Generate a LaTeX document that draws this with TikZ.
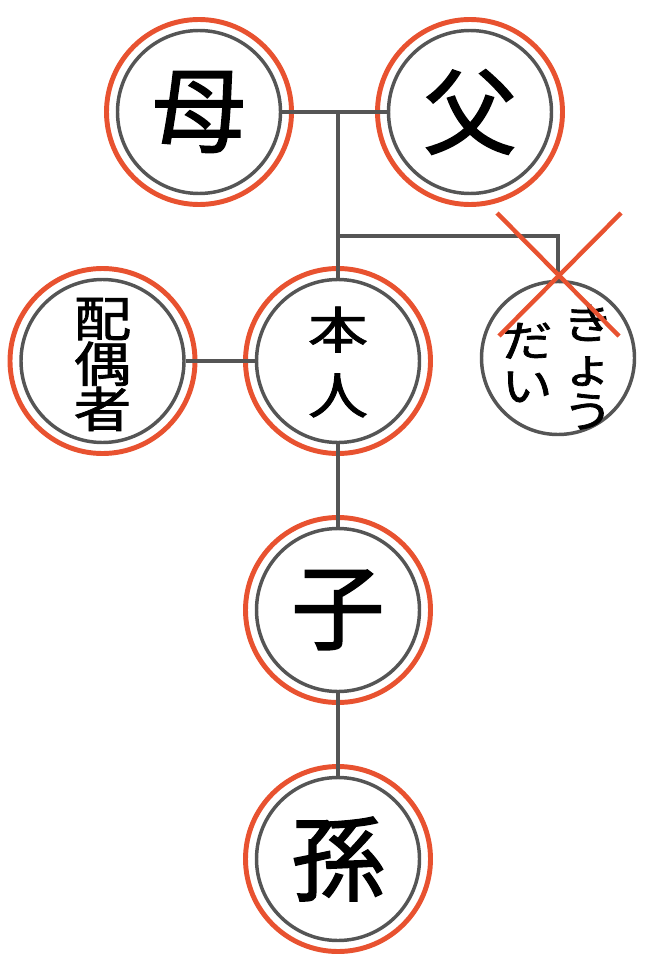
\documentclass[tikz,border=0pt]{standalone}
\usepackage{fontspec}
\newfontfamily\jp[FakeBold=1.6,AutoFakeBold=1.6]{Noto Sans CJK JP}
\definecolor{ringred}{RGB}{232,82,48}
\definecolor{linegray}{RGB}{85,85,85}
\newcommand{\vstack}[3]{\scalebox{1}[#1]{\vbox{\lineskiplimit=-200pt\baselineskip=#2\relax #3}}}
\begin{document}
\begin{tikzpicture}[x=0.75pt,y=-0.75pt,
  redring/.style={circle,draw=ringred,line width=3.7pt,minimum size=138.75pt,inner sep=0pt},
  grayring/.style={circle,draw=linegray,line width=2.6pt,minimum size=122.25pt,inner sep=0pt,
     font=\jp\bfseries\fontsize{70pt}{70pt}\selectfont},
  plainring/.style={circle,draw=linegray,line width=2.6pt,minimum size=114.75pt,inner sep=0pt},
  lbl/.style={inner sep=0pt},
  conn/.style={draw=linegray,line width=2.5pt},
  cross/.style={draw=ringred,line width=3.3pt},
]
\useasboundingbox (0,0) rectangle (650,963);

% rings
\node[redring] (moR) at (199,112) {};
\node[grayring] (mo) at (199,112) {母};
\node[redring] (faR) at (470,112) {};
\node[grayring] (fa) at (470,112) {父};
\node[redring] (spR) at (102.5,361) {};
\node[grayring] (sp) at (102.5,361) {};
\node[lbl,font=\jp\bfseries\fontsize{43pt}{43pt}\selectfont] (spT) at (102.5,364.5)
  {\vstack{0.84}{40.5pt}{\hbox{配}\hbox{偶}\hbox{者}}};
\node[redring] (hoR) at (338,361) {};
\node[grayring] (ho) at (338,361) {};
\node[lbl,font=\jp\bfseries\fontsize{45pt}{45pt}\selectfont] (hoT) at (338,362)
  {\vstack{0.83}{59pt}{\hbox{本}\hbox{人}}};
\node[plainring] (ky) at (558,358) {};
\node[lbl,font=\jp\bfseries\fontsize{38pt}{38pt}\selectfont] (kyR) at (588,367)
  {\vstack{0.85}{39pt}{\hbox to 40pt{\hss き\hss}\hbox to 40pt{\hss ょ\hss}\hbox to 40pt{\hss う\hss}}};
\node[lbl,font=\jp\bfseries\fontsize{38pt}{38pt}\selectfont] (kyL) at (527,362.5)
  {\vstack{0.85}{40pt}{\hbox{だ}\hbox{い}}};
\node[redring] (koR) at (338,610) {};
\node[grayring] (ko) at (338,610) {子};
\node[redring] (maR) at (338,859) {};
\node[grayring] (ma) at (338,859) {孫};

% connectors
\coordinate (j1) at (338,112);
\coordinate (j2) at (338,236);
\coordinate (j3) at (558,236);
\draw[conn] (mo) -- (fa);
\draw[conn] (j1) -- (ho.north);
\draw[conn] (j2) -- (j3) -- (ky.north);
\draw[conn] (sp) -- (ho);
\draw[conn] (ho) -- (ko);
\draw[conn] (ko) -- (ma);

% cross
\coordinate (xa1) at (497,213);
\coordinate (xa2) at (619,336);
\coordinate (xb1) at (621,213);
\coordinate (xb2) at (499,336);
\draw[cross] (xa1) -- (xa2);
\draw[cross] (xb1) -- (xb2);
\end{tikzpicture}
\end{document}
